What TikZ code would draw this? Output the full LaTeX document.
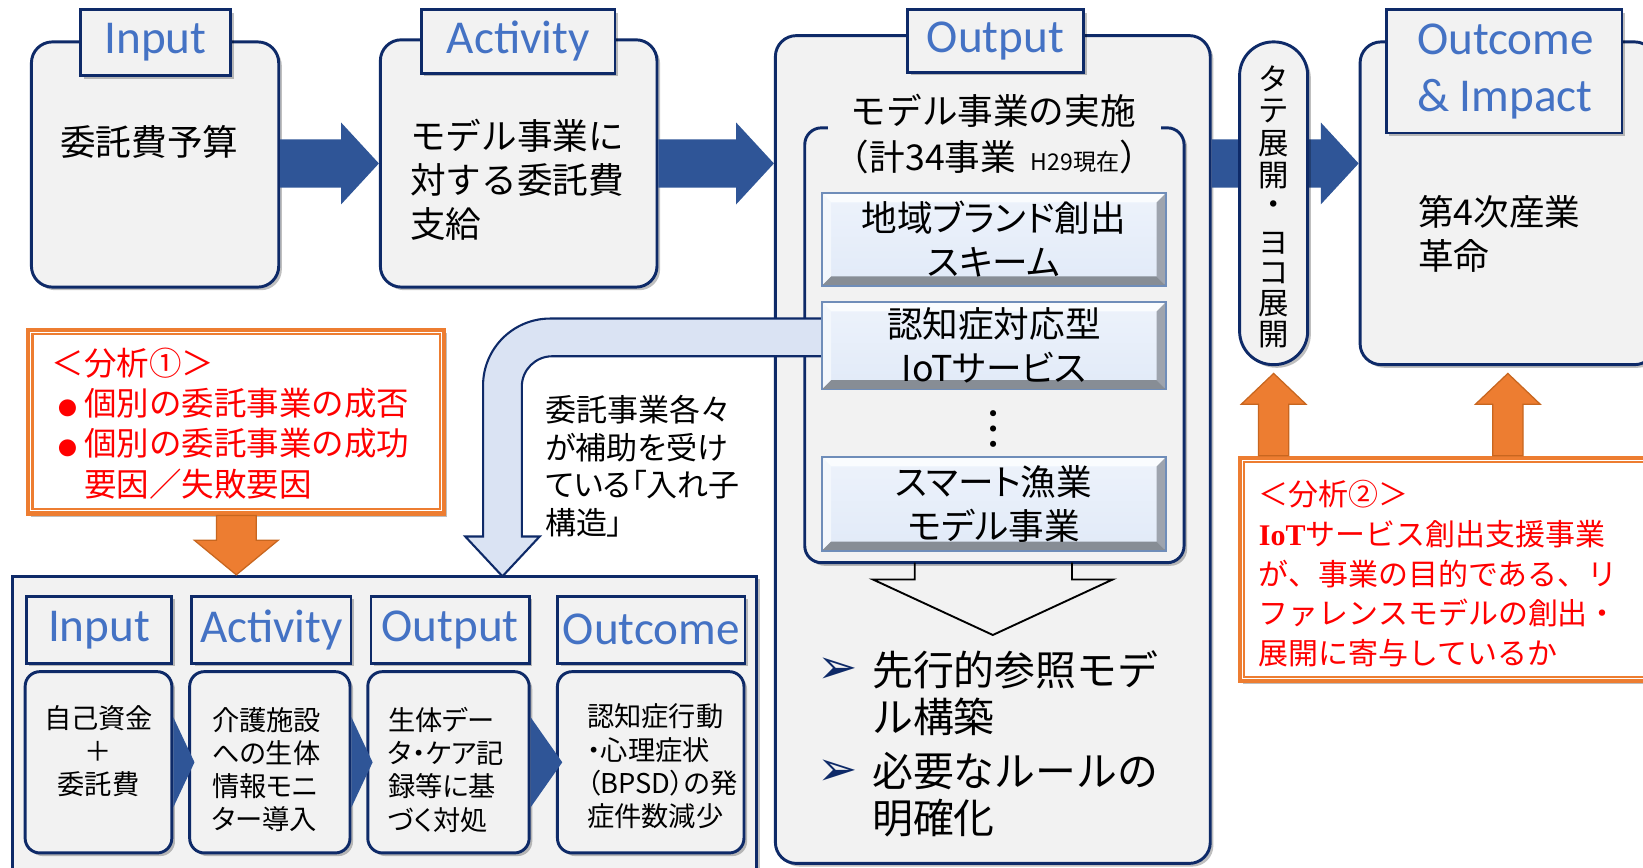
\documentclass[tikz,border=0pt]{standalone}
\usepackage{fontspec}
\setmainfont{Noto Sans CJK JP}
\newfontfamily\calib{Carlito}
\newfontfamily\dejavu{DejaVu Sans}
\newfontfamily\timesb{Liberation Serif}
\newfontfamily\jpui[RawFeature=+palt]{Noto Sans CJK JP}
\usetikzlibrary{calc,fit,shadows}

\definecolor{navy}{HTML}{0E2A68}
\definecolor{titleblue}{HTML}{4472C4}
\definecolor{boxgray}{HTML}{F2F2F2}
\definecolor{arrowblue}{HTML}{2F5597}
\definecolor{orangefill}{HTML}{ED7D31}
\definecolor{orangeline}{HTML}{C8661F}
\definecolor{paleblue}{HTML}{DAE3F3}
\definecolor{btnface}{HTML}{E1EAF8}
\definecolor{btnedge}{HTML}{6F8DB9}

\tikzset{
  softshadow/.style={drop shadow={shadow xshift=1.5pt,shadow yshift=-1.5pt,opacity=.25,fill=black}},
  mainbox/.style={draw=navy,line width=1.4pt,fill=boxgray,rounded corners=10pt,inner sep=0pt,softshadow},
  smallbox/.style={mainbox,rounded corners=7pt},
  lowframe/.style={draw=navy,line width=1.4pt,fill=boxgray,inner sep=0pt,softshadow},
  titlebox/.style={draw=navy,line width=1.3pt,fill=boxgray,inner sep=0pt,softshadow},
  titletext/.style={text=titleblue,font=\calib\fontsize{22.5pt}{27pt}\selectfont,inner sep=0pt},
  bodytext/.style={font=\fontsize{17pt}{21pt}\selectfont,align=left,inner sep=0pt},
  btntext/.style={font=\jpui\fontsize{17pt}{21pt}\selectfont,align=center,inner sep=0pt},
  itemtext/.style={font=\fontsize{19.5pt}{22.5pt}\selectfont,align=left,inner sep=0pt},
  notetext/.style={font=\jpui\fontsize{14.8pt}{18pt}\selectfont,align=left,inner sep=0pt},
  lowtext/.style={font=\jpui\fontsize{13pt}{15.9pt}\selectfont,align=left,inner sep=0pt},
  redtext/.style={text=red,font=\fontsize{15.5pt}{19.2pt}\selectfont,align=left,inner sep=0pt},
  vtext/.style={font=\fontsize{14.5pt}{15pt}\selectfont,inner sep=0pt},
  marker/.style={text=navy,font=\dejavu\fontsize{23pt}{23pt}\selectfont,inner sep=0pt},
  anabox/.style={draw=orangefill,line width=2pt,fill=white,inner sep=0pt,softshadow},
  pillbox/.style={draw=navy,line width=1.4pt,fill=boxgray,rounded corners=16pt,inner sep=0pt,softshadow},
  bentarrow/.style={draw=navy,line width=1pt,fill=paleblue},
  orarrow/.style={fill=orangefill,draw=orangeline,line width=0.6pt},
  btn/.style={draw=btnedge,line width=0.8pt,inner sep=0pt,top color=btnface!60!white,bottom color=btnface},
}

% big blue arrow from a point to a tip (same height as the tip)
\newcommand\blockarrow[2]{%
  \fill[arrowblue] let \p1=(#1), \p2=(#2) in
    (\x1,\y2+11.5pt) -- (\x2-18pt,\y2+11.5pt) -- (\x2-18pt,\y2+19.5pt) -- (\x2,\y2)
    -- (\x2-18pt,\y2-19.5pt) -- (\x2-18pt,\y2-11.5pt) -- (\x1,\y2-11.5pt) -- cycle;}
% orange arrow: tail, tip, shaft half, head half, head length
\newcommand\orangearrow[5]{%
  \filldraw[orarrow] ($(#2 |- #1)+(-#3,0)$) -- ($(#2)+(-#3,#5)$) -- ($(#2)+(-#4,#5)$) -- (#2)
    -- ($(#2)+(#4,#5)$) -- ($(#2)+(#3,#5)$) -- ($(#2 |- #1)+(#3,0)$) -- cycle;}
% bevelled button
\newcommand\bevelbtn[3]{%
  \node[btn, fit={(#2) (#3)}] (#1) {};
  \fill[white!85!btnface] (#1.north west) -- (#1.north east) -- ($(#1.north east)+(-9,9)$) -- ($(#1.north west)+(9,9)$) -- cycle;
  \fill[white!60!btnface] (#1.north west) -- ($(#1.north west)+(9,9)$) -- ($(#1.south west)+(9,-9)$) -- (#1.south west) -- cycle;
  \fill[black!30!btnface] (#1.north east) -- ($(#1.north east)+(-9,9)$) -- ($(#1.south east)+(-9,-9)$) -- (#1.south east) -- cycle;
  \fill[black!40!btnface] (#1.south west) -- ($(#1.south west)+(9,-9)$) -- ($(#1.south east)+(-9,-9)$) -- (#1.south east) -- cycle;
  \draw[btnedge,line width=0.8pt] (#1.north west) rectangle (#1.south east);}
% small chevron between two boxes
\newcommand\chev[2]{\fill[arrowblue] ($(#1.east)+(0,-43)$) -- ($(#2.west)+(6,0)$) -- ($(#1.east)+(0,43)$) -- cycle;}
% small red bullet
\newcommand\dotitem{\makebox[15.5pt][c]{\fontsize{9pt}{9pt}\selectfont ●}}

\begin{document}
\begin{tikzpicture}[x=0.5pt,y=-0.5pt]
\useasboundingbox (0,0) rectangle (1568,828);
\fill[white] (0,0) rectangle (1568,828);

%%%%% Output column %%%%%
\node[mainbox, fit={(740,34) (1155,824)}] (outbox) {};
\draw[navy, line width=1.4pt, fill=boxgray, rounded corners=8pt, softshadow] (790,122) -- (768,122) -- (768,537) -- (1130,537) -- (1130,122) -- (1108,122);
\node[bodytext] (outhead) at (948,106) {モデル事業の実施};
\node[bodytext] (outcount) at (949,150) {（計34事業\hspace{7pt}{\fontsize{11pt}{13pt}\selectfont H29現在}）};

\draw[bentarrow] (785,304) -- (525,304) arc[start angle=90,end angle=180,radius=32pt] -- (461,512) -- (444,512) -- (479.5,550) -- (515,512) -- (498,512) -- (498,369) arc[start angle=180,end angle=90,radius=14.5pt] -- (785,340) -- cycle;

\bevelbtn{btnA}{785,185}{1112,272}
\bevelbtn{btnB}{785,289}{1112,371}
\bevelbtn{btnC}{785,437}{1112,525}
\node[btntext] (btnAt) at (btnA) {地域ブランド創出\\スキーム};
\node[btntext] (btnBt) at (btnB) {認知症対応型\\IoTサービス};
\node[btntext] (btnCt) at (btnC) {スマート漁業\\モデル事業};
\node[font=\fontsize{22pt}{22pt}\selectfont, inner sep=0pt] (more) at (948,409) {︙};

\draw[black, line width=0.9pt] (873,537) -- (873,553) -- (833,553) -- (947.5,606) -- (1062,553) -- (1023,553) -- (1023,537);
\node[marker] (mark1) at (799,640) {➢};
\node[marker] (mark2) at (799,737.5) {➢};
\node[itemtext, anchor=west] (item1) at (832,661.5) {先行的参照モデ\\ル構築};
\node[itemtext, anchor=west] (item2) at (832,758.5) {必要なルールの\\明確化};
\node[titlebox, fit={(866,9) (1034,69)}] (outtitle) {};
\node[titletext] (outtitlet) at (outtitle) {Output};

%%%%% Input / Activity %%%%%
\node[mainbox, fit={(30,40) (266,274)}] (inbox) {};
\node[mainbox, fit={(363,38) (627,274)}] (actbox) {};
\node[titlebox, fit={(77,9) (220,72)}] (intitle) {};
\node[titletext] (intitlet) at (intitle) {Input};
\node[titlebox, fit={(402,9) (587,70)}] (acttitle) {};
\node[titletext] (acttitlet) at (acttitle) {Activity};
\node[bodytext, anchor=west] (intext) at (57,135) {委託費予算};
\node[bodytext, anchor=west] (acttext) at (391,172) {モデル事業に\\対する委託費\\支給};
\blockarrow{inbox.east}{actbox.west}
\blockarrow{actbox.east}{outbox.west |- actbox.west}

%%%%% Outcome & Impact %%%%%
\node[mainbox, fit={(1298,40) (1580,348)}] (outcomebox) {};
\blockarrow{outbox.east |- actbox.west}{outcomebox.west |- actbox.west}
\node[pillbox, fit={(1183,40) (1248,348)}] (pill) {};
\foreach \ch/\yy [count=\i] in {タ/75,テ/106,展/137,開/168,・/199,ヨ/232,コ/261,展/290,開/319}
  \node[vtext] (tate\i) at (1215.5,\yy) {\ch};
\node[titlebox, fit={(1323,9) (1548,127)}] (outcometitle) {};
\node[titletext, align=left, anchor=west] (outcometitlet) at (1352,68) {Outcome\\\& Impact};
\node[bodytext, anchor=west] (outcometext) at (1353,223) {第4次産業\\革命};

%%%%% analysis 1 %%%%%
\node[anabox, fit={(27,315) (424,490)}] (ana1) {};
\draw[orangefill, line width=1pt] ($(ana1.north west)+(6,6)$) rectangle ($(ana1.south east)+(-6,-6)$);
\node[redtext, anchor=west] (ana1text) at (49,404) {＜分析①＞\\\dotitem 個別の委託事業の成否\\\dotitem 個別の委託事業の成功\\\hspace*{15.5pt}要因／失敗要因};

%%%%% nested evaluation %%%%%
\node[lowframe, fit={(12,550) (722,845)}] (lowbox) {};
\coordinate (dtip) at (ana1.south |- lowbox.north);
\orangearrow{ana1.south}{dtip}{19}{40}{-33}
\node[notetext, anchor=west] (nest) at (520,445) {委託事業各々\\が補助を受け\\ている「入れ子\\構造」};

\node[titlebox, fit={(25,569) (164,633)}] (lintitle) {};
\node[titlebox, fit={(183,569) (335,633)}] (lacttitle) {};
\node[titlebox, fit={(354,569) (505,633)}] (louttitle) {};
\node[titlebox, fit={(532,569) (711,633)}] (loctitle) {};
\node[titletext] (lintitlet) at (lintitle) {Input};
\node[titletext] (lacttitlet) at (lacttitle) {Activity};
\node[titletext] (louttitlet) at (louttitle) {Output};
\node[titletext] (loctitlet) at (loctitle) {Outcome};
\node[smallbox, fit={(24,641) (164,814)}] (lin) {};
\node[smallbox, fit={(181,641) (334,814)}] (lact) {};
\node[smallbox, fit={(351,641) (505,814)}] (lout) {};
\node[smallbox, fit={(532,641) (710,814)}] (loc) {};
\chev{lin}{lact}
\chev{lact}{lout}
\chev{lout}{loc}
\node[lowtext, align=center] (lintext) at (94,717) {自己資金\\＋\\委託費};
\node[lowtext, anchor=west] (lacttext) at (202,734.5) {介護施設\\への生体\\情報モニ\\ター導入};
\node[lowtext, anchor=west] (louttext) at (370,734.5) {生体デー\\タ・ケア記\\録等に基\\づく対処};
\node[lowtext, anchor=west] (loctext) at (560,731.5) {認知症行動\\・心理症状\\（BPSD）の発\\症件数減少};

%%%%% analysis 2 %%%%%
\node[anabox, fit={(1183,437) (1585,650)}] (ana2) {};
\draw[orangefill, line width=1pt] ($(ana2.north west)+(6,6)$) rectangle ($(ana2.south east)+(-6,-6)$);
\coordinate (utipA) at ($(pill.south)+(0,7)$);
\coordinate (utipB) at ($(outcomebox.south)+(0,7)$);
\orangearrow{ana2.north}{utipA}{14.5}{31}{29.5}
\orangearrow{ana2.north}{utipB}{14.5}{31}{29.5}
\node[redtext, font=\fontsize{14.3pt}{18.9pt}\selectfont, anchor=west] (ana2text) at (1201,547.5) {＜分析②＞\\{\timesb\bfseries IoT}サービス創出支援事業\\が、事業の目的である、リ\\ファレンスモデルの創出・\\展開に寄与しているか};
\end{tikzpicture}
\end{document}
